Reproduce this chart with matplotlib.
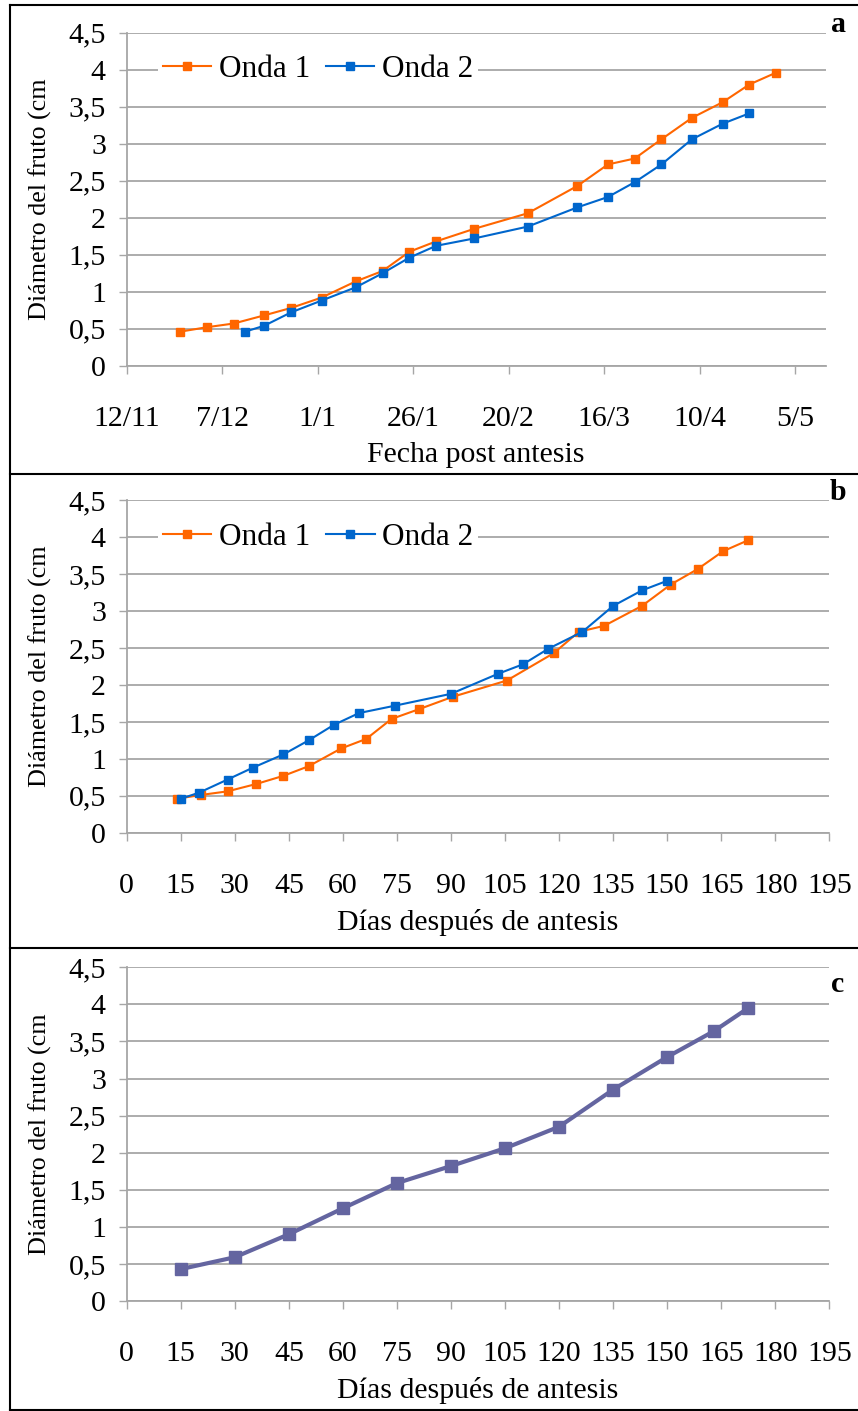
import numpy as np
import matplotlib
matplotlib.use("Agg")
import matplotlib.pyplot as plt
from matplotlib.lines import Line2D

# ---------------- data ----------------
# Panel a: fecha post antesis
onda1_dates_a = ["2011-11-26", "2011-12-03", "2011-12-10", "2011-12-18", "2011-12-25",
                 "2012-01-02", "2012-01-11", "2012-01-18", "2012-01-25", "2012-02-01",
                 "2012-02-11", "2012-02-25", "2012-03-09", "2012-03-17", "2012-03-24",
                 "2012-03-31", "2012-04-08", "2012-04-16", "2012-04-23", "2012-04-30"]
onda1_diam_a = [0.46, 0.52, 0.57, 0.68, 0.78, 0.92, 1.14, 1.28, 1.54, 1.68,
                1.85, 2.06, 2.43, 2.72, 2.80, 3.06, 3.35, 3.56, 3.80, 3.96]
onda2_dates_a = ["2011-12-13", "2011-12-18", "2011-12-25", "2012-01-02", "2012-01-11",
                 "2012-01-18", "2012-01-25", "2012-02-01", "2012-02-11", "2012-02-25",
                 "2012-03-09", "2012-03-17", "2012-03-24", "2012-03-31", "2012-04-08",
                 "2012-04-16", "2012-04-23"]
onda2_diam_a = [0.46, 0.54, 0.72, 0.88, 1.06, 1.25, 1.46, 1.62, 1.72, 1.88,
                2.14, 2.28, 2.48, 2.72, 3.06, 3.27, 3.41]
date_ticks = ["2011-11-12", "2011-12-07", "2012-01-01", "2012-01-26",
              "2012-02-20", "2012-03-16", "2012-04-10", "2012-05-05"]
date_tick_labels = ["12/11", "7/12", "1/1", "26/1", "20/2", "16/3", "10/4", "5/5"]

# Panel b: días después de antesis
onda1_days_b = [14, 20.5, 28, 36, 43.5, 50.5, 59.5, 66.5, 73.5, 81,
                90.5, 105.5, 118.5, 125.5, 132.5, 143, 151, 158.5, 165.5, 172.5]
onda1_diam_b = [0.46, 0.51, 0.56, 0.66, 0.77, 0.90, 1.14, 1.27, 1.54, 1.67,
                1.84, 2.06, 2.43, 2.72, 2.80, 3.07, 3.36, 3.57, 3.81, 3.96]
onda2_days_b = [15, 20, 28, 35, 43.5, 50.5, 57.5, 64.5, 74.5, 90,
                103, 110, 117, 126.5, 135, 143, 150]
onda2_diam_b = [0.46, 0.54, 0.72, 0.88, 1.06, 1.25, 1.46, 1.62, 1.72, 1.88,
                2.15, 2.28, 2.49, 2.72, 3.07, 3.28, 3.41]

# Panel c
days_c = [15, 30, 45, 60, 75, 90, 105, 120, 135, 150, 163, 172.5]
diam_c = [0.43, 0.59, 0.90, 1.25, 1.59, 1.82, 2.06, 2.35, 2.85, 3.29, 3.64, 3.95]

y_ticks = [0, 0.5, 1, 1.5, 2, 2.5, 3, 3.5, 4, 4.5]
y_tick_labels = ["0", "0,5", "1", "1,5", "2", "2,5", "3", "3,5", "4", "4,5"]
day_ticks = list(range(0, 196, 15))

# ---------------- style ----------------
W, H = 858, 1411
DPI = 100
FS = 21.5      # horizontal texts
FS_Y = 18.8    # rotated y label
FS_LEG = 22.5
SERIF = ["Liberation Serif", "DejaVu Serif"]
plt.rcParams["font.family"] = SERIF
plt.rcParams["font.size"] = FS

C1 = "#FF6600"
C2 = "#0066CC"
C3 = "#6465A0"
GRID = "#A6A6A6"

fig = plt.figure(figsize=(W / DPI, H / DPI), dpi=DPI)


def ax_rect(x0, x1, ytop, ybot):
    return [x0 / W, 1 - ybot / H, (x1 - x0) / W, (ybot - ytop) / H]


def style_axis(ax, xlabel, ylab_px_center=40):
    ax.set_ylim(0, 4.5)
    ax.set_yticks(y_ticks)
    ax.set_yticklabels(y_tick_labels)
    for s in ["top", "right"]:
        ax.spines[s].set_visible(False)
    for s in ["left", "bottom"]:
        ax.spines[s].set_color(GRID)
        ax.spines[s].set_linewidth(1.3)
    ax.grid(axis="y", color=GRID, linewidth=1.3)
    ax.set_axisbelow(True)
    ax.tick_params(axis="both", colors=GRID, labelcolor="black", length=6, width=1.0,
                   labelsize=FS)
    ax.tick_params(axis="y", pad=9)
    ax.tick_params(axis="x", pad=23)
    ax.set_xlabel(xlabel, fontsize=FS)
    ax.set_ylabel("Diámetro del fruto (cm", fontsize=FS_Y)
    bb = ax.get_position()
    wpx = bb.width * W
    hpx = bb.height * H
    ax.yaxis.set_label_coords((ylab_px_center - bb.x0 * W) / wpx, 0.5)
    ax.yaxis.label.set_verticalalignment("center")
    ax.xaxis.set_label_coords(0.5, -76 / hpx)


LW = 1.5
MS = 5.2

# ---- panel a ----
axa = fig.add_axes(ax_rect(126.7, 825.7, 32.7, 365.7))
d1 = np.array(onda1_dates_a, dtype="datetime64[D]")
d2 = np.array(onda2_dates_a, dtype="datetime64[D]")
axa.plot(d1, onda1_diam_a, color=C1, lw=LW, marker="s", ms=MS, label="Onda 1")
axa.plot(d2, onda2_diam_a, color=C2, lw=LW, marker="s", ms=MS, label="Onda 2")
axa.set_xlim(np.datetime64("2011-11-12"), np.datetime64("2012-05-13"))
axa.set_xticks(np.array(date_ticks, dtype="datetime64[D]"))
axa.set_xticklabels(date_tick_labels)
style_axis(axa, "Fecha post antesis")

# ---- panel b ----
axb = fig.add_axes(ax_rect(126.7, 829.3, 500.3, 832.7))
axb.plot(onda1_days_b, onda1_diam_b, color=C1, lw=LW, marker="s", ms=MS, label="Onda 1")
axb.plot(onda2_days_b, onda2_diam_b, color=C2, lw=LW, marker="s", ms=MS, label="Onda 2")
axb.set_xlim(0, 195)
axb.set_xticks(day_ticks)
style_axis(axb, "Días después de antesis")

# ---- panel c ----
axc = fig.add_axes(ax_rect(126.7, 829.3, 967.3, 1301.0))
axc.plot(days_c, diam_c, color=C3, lw=3.0, marker="s", ms=8.2)
axc.set_xlim(0, 195)
axc.set_xticks(day_ticks)
style_axis(axc, "Días después de antesis")

# legends
for ax in (axa, axb):
    leg = ax.legend(loc="center left", bbox_to_anchor=(0.045, 0.889), ncol=2,
                    frameon=True, fancybox=False, edgecolor="none", facecolor="white",
                    framealpha=1.0, fontsize=FS_LEG, handlelength=1.55, handletextpad=0.25,
                    columnspacing=0.5, borderpad=0.15, borderaxespad=0.0)

# panel letters
for lab, ypx in (("a", 25), ("b", 492), ("c", 985)):
    fig.text(838 / W, 1 - ypx / H, lab, ha="center", va="center", fontsize=FS,
             fontweight="bold")

# outer frame lines (figure pixel coordinates)
def hline(ypx, x0=10, x1=W):
    fig.add_artist(Line2D([x0 / W, x1 / W], [1 - ypx / H, 1 - ypx / H],
                          color="black", lw=1.5, transform=fig.transFigure))

hline(5)
hline(473.5)
hline(947.5)
hline(1409.5)
fig.add_artist(Line2D([10 / W, 10 / W], [1 - 5 / H, 1 - 1409.5 / H], color="black",
                      lw=1.5, transform=fig.transFigure))

fig.savefig("out.png", dpi=DPI)
